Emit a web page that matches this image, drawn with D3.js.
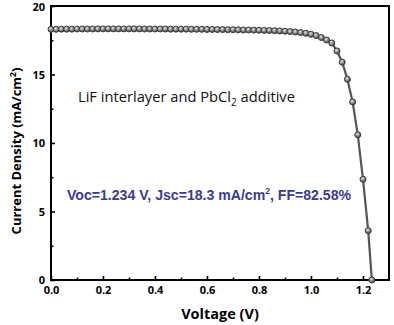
<!DOCTYPE html>
<html><head><meta charset="utf-8">
<script src="https://cdn.jsdelivr.net/npm/d3@7"></script>
<style>body{margin:0;background:#fff}svg{display:block}</style>
</head><body><svg id="c" width="394" height="325"></svg>
<script>
const voltage = [0.00,0.02,0.04,0.06,0.08,0.10,0.12,0.14,0.16,0.18,0.20,0.22,0.24,0.26,0.28,0.30,0.32,0.34,0.36,0.38,0.40,0.42,0.44,0.46,0.48,0.50,0.52,0.54,0.56,0.58,0.60,0.62,0.64,0.66,0.68,0.70,0.72,0.74,0.76,0.78,0.80,0.82,0.84,0.86,0.88,0.90,0.92,0.94,0.96,0.98,1.00,1.02,1.04,1.06,1.08,1.10,1.12,1.14,1.16,1.18,1.20,1.22,1.234];
const current = [18.30,18.30,18.31,18.31,18.31,18.32,18.32,18.32,18.32,18.33,18.33,18.33,18.33,18.33,18.33,18.33,18.33,18.33,18.32,18.32,18.32,18.32,18.32,18.31,18.31,18.31,18.31,18.30,18.30,18.30,18.29,18.29,18.28,18.28,18.27,18.27,18.26,18.25,18.25,18.24,18.23,18.22,18.21,18.20,18.18,18.16,18.13,18.10,18.06,18.01,17.94,17.84,17.70,17.52,17.30,16.72,15.90,14.65,13.00,10.60,7.35,3.60,0.00];
const xTicks = [0.0,0.2,0.4,0.6,0.8,1.0,1.2];
const xMinor = [0.1,0.3,0.5,0.7,0.9,1.1];
const yTicks = [0,5,10,15,20];
const yMinor = [2.5,7.5,12.5,17.5];

const svg = d3.select("#c");
const L=51,R=389,T=6,B=280;
const x = d3.scaleLinear().domain([0,1.3]).range([L,R]);
const y = d3.scaleLinear().domain([0,20]).range([B,T]);

const defs = svg.append("defs");
const g = defs.append("radialGradient").attr("id","ball").attr("cx","40%").attr("cy","35%").attr("r","65%");
g.append("stop").attr("offset","0%").attr("stop-color","#e8e8e8");
g.append("stop").attr("offset","55%").attr("stop-color","#8a8a8a");
g.append("stop").attr("offset","100%").attr("stop-color","#444");

const tickFont = "'Open Sans', sans-serif";

// axes
svg.append("g").attr("transform",`translate(0,${B})`)
  .call(d3.axisBottom(x).tickValues(xTicks).tickFormat(d3.format(".1f")).tickSizeInner(-4).tickSizeOuter(0).tickPadding(6));
svg.append("g").attr("transform",`translate(0,${B})`)
  .call(d3.axisBottom(x).tickValues(xMinor).tickFormat("").tickSizeInner(-2.5).tickSizeOuter(0));
svg.append("g").attr("transform",`translate(${L},0)`)
  .call(d3.axisLeft(y).tickValues(yTicks).tickSizeInner(-4).tickSizeOuter(0).tickPadding(6));
svg.append("g").attr("transform",`translate(${L},0)`)
  .call(d3.axisLeft(y).tickValues(yMinor).tickFormat("").tickSizeInner(-2.5).tickSizeOuter(0));
svg.selectAll(".domain").remove();
svg.selectAll(".tick line").attr("stroke","#000").attr("stroke-width",1.6);
svg.selectAll(".tick text").attr("font-family",tickFont).attr("font-weight","bold").attr("font-size",11).attr("fill","#000");
svg.selectAll(".tick text").filter(d=>d===20).attr("dy","0.45em");

svg.append("rect").attr("x",L).attr("y",T).attr("width",R-L).attr("height",B-T)
  .attr("fill","none").attr("stroke","#000").attr("stroke-width",2);

// line + markers
const pts = voltage.map((v,i)=>[v,current[i]]);
svg.append("path").datum(pts)
  .attr("d",d3.line().x(d=>x(d[0])).y(d=>y(d[1])))
  .attr("fill","none").attr("stroke","#555").attr("stroke-width",2.2);
svg.append("g").selectAll("circle").data(pts).join("circle")
  .attr("cx",d=>x(d[0])).attr("cy",d=>y(d[1])).attr("r",3)
  .attr("fill","url(#ball)").attr("stroke","#3a3a3a").attr("stroke-width",1);

// annotation texts
const t1 = svg.append("text").attr("x",78).attr("y",102).attr("font-family","'Open Sans', sans-serif").attr("font-size",14.7).attr("fill","#111");
t1.append("tspan").text("LiF interlayer and PbCl");
t1.append("tspan").attr("font-size",10).attr("dy",3.5).text("2");
t1.append("tspan").attr("dy",-3.5).text(" additive");

const t2 = svg.append("text").attr("x",67).attr("y",200).attr("font-family","'Liberation Sans', Arial, sans-serif").attr("font-weight","bold").attr("font-size",14.1).attr("fill","#3a3a98");
t2.append("tspan").text("Voc=1.234 V, Jsc=18.3 mA/cm");
t2.append("tspan").attr("font-size",8.5).attr("dy",-6).text("2");
t2.append("tspan").attr("dy",6).text(", FF=82.58%");

// axis titles
svg.append("text").attr("x",220).attr("y",319).attr("text-anchor","middle")
  .attr("font-family",tickFont).attr("font-weight","bold").attr("font-size",14.5).text("Voltage (V)");
const yt = svg.append("text").attr("transform",`translate(21,${(T+B)/2+8}) rotate(-90)`).attr("text-anchor","middle")
  .attr("font-family",tickFont).attr("font-weight","bold").attr("font-size",13);
yt.append("tspan").text("Current Density (mA/cm");
yt.append("tspan").attr("font-size",8.5).attr("dy",-5).text("2");
yt.append("tspan").attr("dy",5).text(")");
</script></body></html>
